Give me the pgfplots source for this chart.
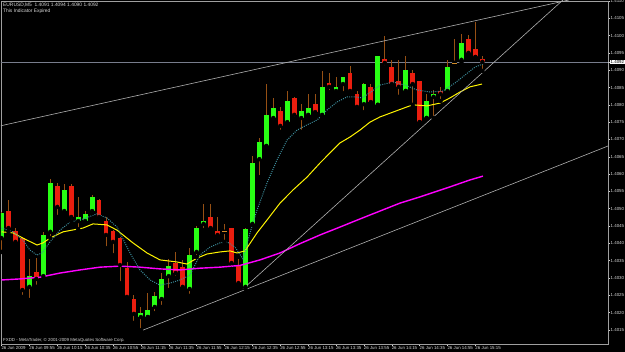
\documentclass[border=0pt]{standalone}
\usepackage{fontspec}
\setmainfont{Liberation Sans}
\usepackage{pgfplots}
\usepackage{pgfplotstable}
\pgfplotsset{compat=1.18}
\definecolor{bull}{RGB}{40,255,20}
\definecolor{bear}{RGB}{235,30,15}
\definecolor{wick}{RGB}{150,80,20}
\definecolor{dojic}{RGB}{210,140,40}
\definecolor{maf}{RGB}{60,140,155}
\definecolor{mam}{RGB}{255,245,0}
\definecolor{mas}{RGB}{255,0,255}
\definecolor{tl}{RGB}{175,175,175}
\definecolor{pl}{RGB}{120,125,140}
\definecolor{lbl}{RGB}{215,215,215}
\newcommand\tf{\fontsize{4.4}{5}\selectfont}
\newcommand\tg{\fontsize{4.9}{5.5}\selectfont}

% bullish candles (k = bar index, 5-minute bars from 09:35)
\pgfplotstableread{
k O H L C
0 1.40415 1.40490 1.40375 1.40487
4 1.40274 1.40355 1.40236 1.40305
6 1.40305 1.40433 1.40297 1.40424
7 1.40433 1.40586 1.40415 1.40574
9 1.40493 1.40571 1.40487 1.40554
11 1.40464 1.40534 1.40441 1.40476
12 1.40464 1.40493 1.40459 1.40485
13 1.40493 1.40539 1.40487 1.40534
20 1.40187 1.40216 1.40149 1.40198
21 1.40187 1.40256 1.40187 1.40207
22 1.40216 1.40259 1.40198 1.40248
23 1.40239 1.40314 1.40216 1.40297
24 1.40305 1.40355 1.40265 1.40334
27 1.40268 1.40386 1.40248 1.40366
28 1.40375 1.40450 1.40360 1.40444
29 1.40456 1.40513 1.40438 1.40464
32 1.40433 1.40456 1.40404 1.40433
35 1.40274 1.40444 1.40268 1.40441
36 1.40456 1.40652 1.40453 1.40632
37 1.40643 1.40704 1.40591 1.40693
38 1.40681 1.40860 1.40681 1.40771
39 1.40762 1.40820 1.40756 1.40791
41 1.40750 1.40840 1.40742 1.40811
43 1.40762 1.40802 1.40722 1.40782
44 1.40771 1.40831 1.40765 1.40791
46 1.40771 1.40898 1.40765 1.40852
48 1.40840 1.40880 1.40837 1.40852
49 1.40860 1.40880 1.40834 1.40880
52 1.40802 1.40863 1.40779 1.40860
54 1.40800 1.40941 1.40800 1.40941
58 1.40840 1.40941 1.40840 1.40901
61 1.40762 1.40831 1.40762 1.40811
62 1.40823 1.40843 1.40762 1.40831
64 1.40840 1.40930 1.40831 1.40909
65 1.40921 1.40990 1.40921 1.40921
66 1.40930 1.41005 1.40921 1.40979
}\bulltab

% bearish candles
\pgfplotstableread{
k O H L C
1 1.40493 1.40525 1.40433 1.40444
2 1.40435 1.40444 1.40395 1.40404
3 1.40415 1.40418 1.40245 1.40265
5 1.40317 1.40357 1.40274 1.40297
8 1.40565 1.40574 1.40476 1.40505
10 1.40565 1.40571 1.40464 1.40476
14 1.40525 1.40528 1.40467 1.40476
15 1.40464 1.40476 1.40386 1.40424
16 1.40435 1.40438 1.40366 1.40404
17 1.40415 1.40418 1.40285 1.40337
18 1.40328 1.40346 1.40236 1.40245
19 1.40239 1.40250 1.40170 1.40196
25 1.40343 1.40375 1.40300 1.40314
26 1.40331 1.40352 1.40265 1.40274
30 1.40476 1.40513 1.40438 1.40444
31 1.40435 1.40476 1.40421 1.40424
33 1.40444 1.40444 1.40326 1.40343
34 1.40334 1.40355 1.40282 1.40285
40 1.40782 1.40794 1.40722 1.40739
42 1.40820 1.40823 1.40759 1.40771
45 1.40802 1.40831 1.40771 1.40779
47 1.40863 1.40892 1.40837 1.40852
50 1.40892 1.40912 1.40831 1.40840
51 1.40831 1.40840 1.40785 1.40794
53 1.40852 1.40860 1.40802 1.40808
55 1.40932 1.40999 1.40909 1.40921
56 1.40909 1.40930 1.40852 1.40860
57 1.40869 1.40930 1.40823 1.40852
59 1.40892 1.40901 1.40800 1.40860
60 1.40869 1.40869 1.40750 1.40750
63 1.40840 1.40852 1.40811 1.40831
67 1.40990 1.41002 1.40938 1.40950
68 1.40961 1.41039 1.40938 1.40938
69 1.40932 1.40941 1.40898 1.40924
}\beartab

\begin{document}
\begin{tikzpicture}
\fill[black] (0,0) rectangle (625bp,352bp);
\useasboundingbox (0,0) rectangle (625bp,352bp);
\begin{axis}[
  at={(1bp,8bp)}, anchor=south west,
  scale only axis, width=607bp, height=343bp,
  xmin=-0.072, xmax=87.02, ymin=1.40109, ymax=1.41100,
  axis background/.style={fill=black},
  axis line style={draw=gray!75, line width=0.6bp},
  tick style={draw=lbl, line width=0.5bp},
  major tick length=2bp, tick align=outside,
  xtick pos=bottom, ytick pos=right,
  scaled y ticks=false,
  xtick={0,4,8,12,16,20,24,28,32,36,40,44,48,52,56,60,64,68},
  xticklabels={26 Jun 2009,26 Jun 09:55,26 Jun 10:15,26 Jun 10:35,26 Jun 10:55,26 Jun 11:15,26 Jun 11:35,26 Jun 11:55,26 Jun 12:15,26 Jun 12:35,26 Jun 12:55,26 Jun 13:15,26 Jun 13:35,26 Jun 13:55,26 Jun 14:15,26 Jun 14:35,26 Jun 14:55,26 Jun 15:15},
  xticklabel style={anchor=north west, inner sep=0.4bp, xshift=-0.6bp, font=\tf, text=lbl},
  ytick={1.4015,1.4020,1.4025,1.4030,1.4035,1.4040,1.4045,1.4050,1.4055,1.4060,1.4065,1.4070,1.4075,1.4080,1.4085,1.4090,1.4095,1.4100,1.4105,1.4110},
  yticklabel style={anchor=west, inner sep=0.5bp, font=\tf, text=lbl,
    /pgf/number format/fixed, /pgf/number format/fixed zerofill,
    /pgf/number format/precision=4, /pgf/number format/assume math mode=true},
  extra y ticks={1.40924},
  extra y tick labels={1.4092},
  extra y tick style={yticklabel style={fill=white, text=black, inner sep=0.5bp}},
  clip=true,
]
% current price line
\addplot[pl, line width=0.6bp, forget plot] coordinates {(-1,1.40924) (88,1.40924)};

% wicks
\addplot[only marks, mark=none, forget plot, error bars/.cd, y dir=plus, y explicit, error mark=none,
  error bar style={draw=wick, line width=0.9bp}]
  table[x=k, y=L, y error expr=\thisrow{H}-\thisrow{L}] {\bulltab};
\addplot[only marks, mark=none, forget plot, error bars/.cd, y dir=plus, y explicit, error mark=none,
  error bar style={draw=wick, line width=0.9bp}]
  table[x=k, y=L, y error expr=\thisrow{H}-\thisrow{L}] {\beartab};
% bodies
\addplot[only marks, mark=none, forget plot, error bars/.cd, y dir=plus, y explicit, error mark=none,
  error bar style={draw=bull, line width=4.8bp}]
  table[x=k, y=O, y error expr=\thisrow{C}-\thisrow{O}] {\bulltab};
\addplot[only marks, mark=none, forget plot, error bars/.cd, y dir=plus, y explicit, error mark=none,
  error bar style={draw=bear, line width=4.8bp}]
  table[x=k, y=C, y error expr=\thisrow{O}-\thisrow{C}] {\beartab};
% doji crosses
\addplot[only marks, mark=-, mark size=2.4bp, mark options={draw=dojic, line width=0.8bp}, forget plot]
  coordinates {(32,1.40433) (65,1.40921)};

% slow MA (magenta)
\addplot[mas, line width=1.4bp, forget plot] coordinates {
(0,1.40294) (2.65,1.40297) (5.52,1.40302) (8.39,1.40314) (11.26,1.40323) (14.13,1.40331)
(17.0,1.40334) (19.87,1.40331) (22.74,1.40326) (25.61,1.40323) (28.48,1.40328) (31.35,1.40331)
(34.22,1.40336) (37.09,1.40352) (39.96,1.40372) (42.83,1.40399) (45.70,1.40424) (48.57,1.40447)
(52.15,1.40476) (57.17,1.40516) (60.04,1.40534) (64.35,1.40563) (67.22,1.40583) (69.08,1.40594)};

% medium MA (yellow)
\addplot[mam, line width=1bp, forget plot] coordinates {
(0,1.40433) (1.65,1.40430) (3.08,1.40415) (5.09,1.40395) (5.95,1.40401) (6.96,1.40415)
(8.82,1.40433) (11.69,1.40444) (13.13,1.40456) (15.14,1.40453) (16.57,1.40438) (18.87,1.40401)
(20.88,1.40372) (22.74,1.40352) (25.18,1.40346) (26.61,1.40340) (28.05,1.40357) (29.48,1.40369)
(31.35,1.40375) (32.78,1.40378) (33.79,1.40372) (34.94,1.40378) (36.66,1.40430) (38.09,1.40467)
(39.96,1.40516) (41.82,1.40554) (43.83,1.40591) (45.70,1.40632) (47.13,1.40661) (48.57,1.40690)
(50.0,1.40707) (51.43,1.40727) (52.87,1.40750) (54.30,1.40765) (56.17,1.40779) (58.18,1.40794)
(59.04,1.40800) (61.05,1.40797) (62.91,1.40805) (64.35,1.40820) (65.78,1.40837) (67.22,1.40852)
(68.94,1.40860)};

% fast MA (dotted teal)
\addplot[maf, line width=1bp, dash pattern=on 1bp off 1.2bp, forget plot] coordinates {
(0,1.40444) (1.65,1.40433) (3.08,1.40409) (4.09,1.40380) (5.09,1.40366) (5.81,1.40372)
(6.96,1.40404) (8.39,1.40438) (9.83,1.40461) (11.69,1.40470) (13.70,1.40485) (15.14,1.40473)
(16.57,1.40447) (17.72,1.40401) (18.44,1.40372) (19.87,1.40323) (21.31,1.40294) (22.74,1.40279)
(24.17,1.40285) (25.61,1.40294) (27.04,1.40308) (28.48,1.40366) (29.91,1.40389) (31.35,1.40401)
(32.35,1.40404) (33.5,1.40389) (34.65,1.40355) (35.65,1.40430) (36.66,1.40496) (38.09,1.40574)
(39.53,1.40641) (40.96,1.40698) (42.4,1.40727) (43.83,1.40742) (45.27,1.40756) (46.7,1.40785)
(48.13,1.40808) (49.57,1.40823) (50.72,1.40823) (51.72,1.40820) (53.01,1.40837) (54.30,1.40857)
(56.17,1.40866) (57.89,1.40857) (59.61,1.40843) (61.48,1.40837) (63.34,1.40840) (65.06,1.40863)
(66.5,1.40886) (67.93,1.40909) (69.08,1.40918)};

% trend lines
\addplot[tl, line width=0.6bp, forget plot] coordinates {(-0.215,1.40739) (81.42,1.41103)};
\addplot[tl, line width=0.6bp, forget plot] coordinates {(34.65,1.40268) (80.56,1.41103)};
\addplot[tl, line width=0.6bp, forget plot] coordinates {(20.30,1.40149) (87.02,1.40681)};
\end{axis}
\node[anchor=base west, inner sep=0, text=lbl, font=\tg] at (3bp,345.5bp) {EURUSD,M5\ \ 1.4091 1.4094 1.4090 1.4092};
\node[anchor=base west, inner sep=0, text=lbl, font=\tg] at (3bp,339bp) {This Indicator Expired};
\node[anchor=base west, inner sep=0, text=lbl, font=\tf] at (3bp,10.5bp) {FXDD - MetaTrader, \textcopyright{} 2001-2009 MetaQuotes Software Corp.};
\end{tikzpicture}
\end{document}
